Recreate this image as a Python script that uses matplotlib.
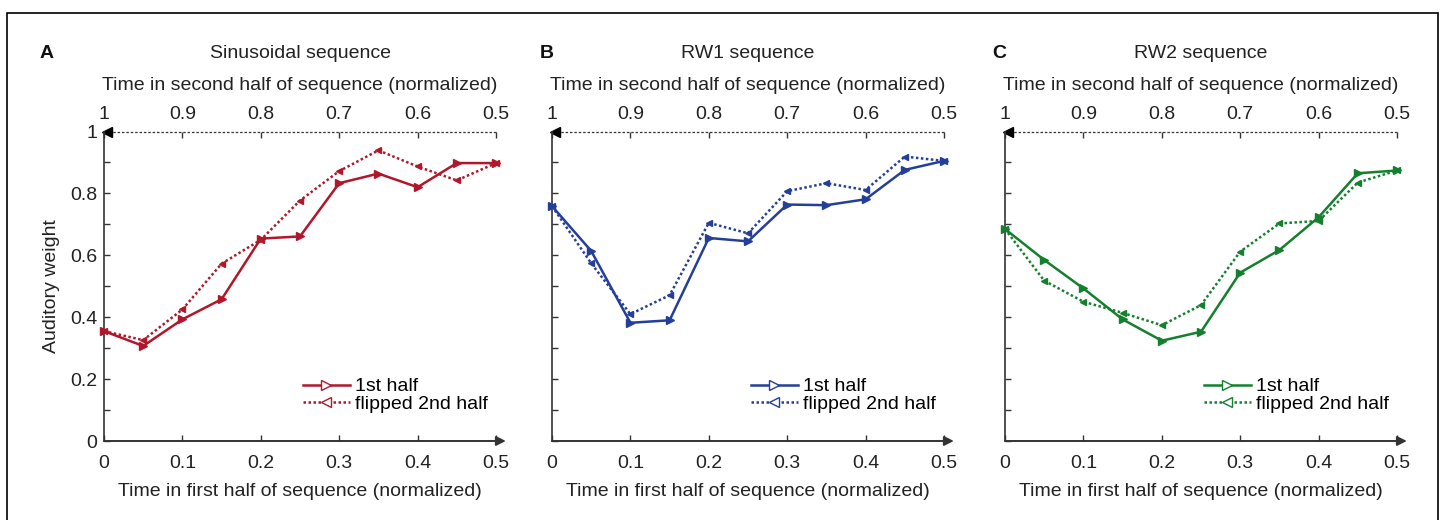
import numpy as np
import matplotlib.pyplot as plt
from matplotlib.patches import Rectangle

plt.rcParams['font.family'] = ['Liberation Sans', 'DejaVu Sans']

x = [0, 0.05, 0.1, 0.15, 0.2, 0.25, 0.3, 0.35, 0.4, 0.45, 0.5]
bottom_ticks = [0, 0.1, 0.2, 0.3, 0.4, 0.5]
bottom_labels = ['0', '0.1', '0.2', '0.3', '0.4', '0.5']
top_labels = ['1', '0.9', '0.8', '0.7', '0.6', '0.5']

sin_first = [0.355, 0.307, 0.393, 0.458, 0.654, 0.661, 0.833, 0.864, 0.820, 0.898, 0.898]
sin_flip = [0.355, 0.326, 0.425, 0.573, 0.650, 0.777, 0.872, 0.939, 0.887, 0.842, 0.898]
rw1_first = [0.759, 0.614, 0.382, 0.390, 0.656, 0.645, 0.764, 0.762, 0.781, 0.876, 0.905]
rw1_flip = [0.759, 0.574, 0.410, 0.471, 0.705, 0.671, 0.807, 0.833, 0.811, 0.919, 0.905]
rw2_first = [0.685, 0.585, 0.493, 0.393, 0.324, 0.353, 0.544, 0.617, 0.723, 0.865, 0.874]
rw2_flip = [0.685, 0.518, 0.450, 0.414, 0.374, 0.439, 0.612, 0.703, 0.711, 0.835, 0.874]

panels = [
    ('A', 'Sinusoidal sequence', sin_first, sin_flip, '#b0172a'),
    ('B', 'RW1 sequence', rw1_first, rw1_flip, '#243f99'),
    ('C', 'RW2 sequence', rw2_first, rw2_flip, '#14802e'),
]

fig = plt.figure(figsize=(14.44, 5.2), dpi=100)
fig.patches.append(Rectangle((7 / 1444, -0.1), 1431 / 1444, 1.1 - 13 / 520,
                             transform=fig.transFigure, fill=False,
                             edgecolor='black', linewidth=1.2))

lefts = [104, 552, 1005]
letter_x = [47, 547, 999]
axc = '#333333'
txt = '#222222'
fs = 14
for i, (letter, title, first, flip, col) in enumerate(panels):
    ax = fig.add_axes([lefts[i] / 1444, 1 - 441 / 520, 392 / 1444, 309.5 / 520])
    ax.set_xlim(0, 0.5)
    ax.set_ylim(0, 1)
    for s in ['top', 'right', 'bottom']:
        ax.spines[s].set_visible(False)
    ax.spines['left'].set_color(axc)
    ax.spines['left'].set_linewidth(1.2)

    # bottom axis with arrow
    ax.annotate('', xy=(1.025, 0), xytext=(0, 0), xycoords='axes fraction',
                arrowprops=dict(arrowstyle='-|>', color=axc, lw=1.4,
                                mutation_scale=14, shrinkA=0, shrinkB=0))
    # top dotted axis with left arrow
    ax.plot([0, 0.5], [1, 1], ls=(0, (2, 1.5)), color=axc, lw=0.9, clip_on=False)
    ax.plot([0.004], [1], marker='<', color='black', ms=7, clip_on=False)

    ax.plot(x, first, color=col, lw=1.8, marker='>', ms=6, mfc=col,
            mec=col, mew=1.0, label='1st half', clip_on=False, zorder=3)
    ax.plot(x, flip, color=col, lw=1.8, ls=(0, (1, 1)), marker='<', ms=5,
            mfc=col, mec=col, mew=1.0, label='flipped 2nd half',
            clip_on=False, zorder=3)

    ax.set_xticks(bottom_ticks)
    ax.set_xticklabels(bottom_labels)
    ax.set_yticks(np.arange(0, 1.01, 0.1))
    if i == 0:
        ax.set_yticklabels(['0', '', '0.2', '', '0.4', '', '0.6', '', '0.8', '', '1'])
        ax.set_ylabel('Auditory weight', fontsize=fs, color=txt, labelpad=7)
    else:
        ax.set_yticklabels([])
    ax.tick_params(axis='both', direction='in', length=4, width=1, color=axc,
                   labelsize=fs, labelcolor=txt, pad=10)
    ax.tick_params(axis='y', pad=5)
    ax.set_xlabel('Time in first half of sequence (normalized)', fontsize=fs,
                  color=txt, labelpad=8)

    top = ax.twiny()
    top.set_xlim(0, 0.5)
    for s in top.spines.values():
        s.set_visible(False)
    top.set_xticks(bottom_ticks)
    top.set_xticklabels(top_labels)
    top.tick_params(axis='x', direction='in', length=4, width=1, color=axc,
                    labelsize=fs, labelcolor=txt, pad=6)
    top.set_xlabel('Time in second half of sequence (normalized)', fontsize=fs,
                   color=txt, labelpad=12)

    fig.text((lefts[i] + 196) / 1444, 1 - 54 / 520, title, ha='center',
             va='center', fontsize=fs, color=txt)
    fig.text(letter_x[i] / 1444, 1 - 54 / 520, letter, ha='center',
             va='center', fontsize=fs, fontweight='bold', color='#111111')

    leg = ax.legend(loc='lower right', bbox_to_anchor=(1.0, 0.065), frameon=False,
                    fontsize=fs, handlelength=2.4, handletextpad=0.3,
                    labelspacing=0.0, borderaxespad=0)
    for h in leg.legend_handles:
        h.set_markerfacecolor('white')
        h.set_markersize(7)

fig.savefig('out.png', dpi=100)
